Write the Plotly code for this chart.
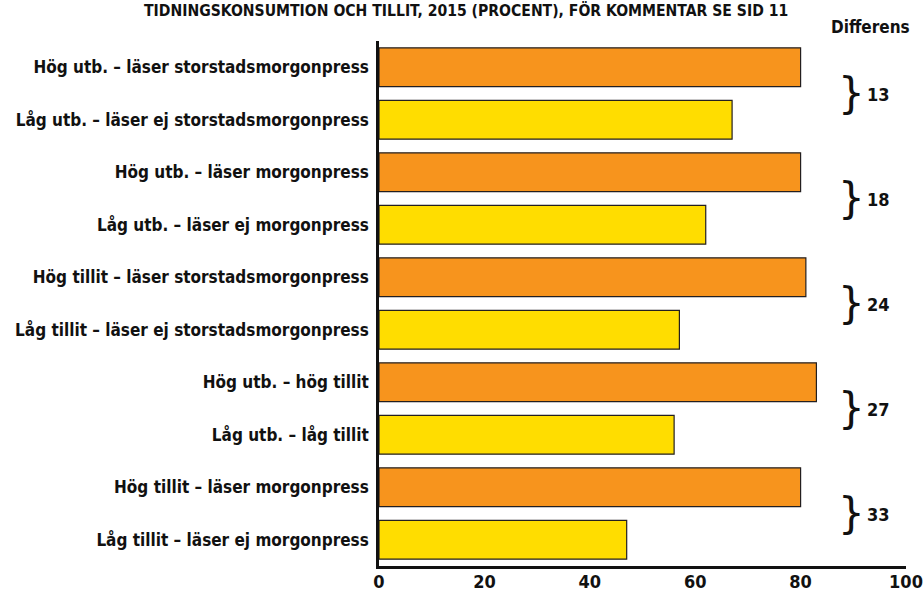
import plotly.graph_objects as go

categories = [
    "Hög utb. – läser storstadsmorgonpress",
    "Låg utb. – läser ej storstadsmorgonpress",
    "Hög utb. – läser morgonpress",
    "Låg utb. – läser ej morgonpress",
    "Hög tillit – läser storstadsmorgonpress",
    "Låg tillit – läser ej storstadsmorgonpress",
    "Hög utb. – hög tillit",
    "Låg utb. – låg tillit",
    "Hög tillit – läser morgonpress",
    "Låg tillit – läser ej morgonpress",
]
values = [80, 67, 80, 62, 81, 57, 83, 56, 80, 47]
groups = ["hog", "lag"] * 5
differences = [13, 18, 24, 27, 33]
x_ticks = [0, 20, 40, 60, 80, 100]

ORANGE = "#F7941D"
YELLOW = "#FFDD00"
FONT = "DejaVu Sans Condensed"

cats_rev = categories[::-1]
vals_rev = values[::-1]
cols_rev = [ORANGE if g == "hog" else YELLOW for g in groups][::-1]

fig = go.Figure()
fig.add_trace(go.Bar(
    y=cats_rev, x=vals_rev, orientation="h",
    marker=dict(color=cols_rev, line=dict(color="#231F20", width=1.2)),
    hoverinfo="x+y",
))

fig.update_layout(
    width=923, height=594,
    margin=dict(l=379, r=17, t=41, b=28, autoexpand=False),
    paper_bgcolor="white", plot_bgcolor="white",
    bargap=0.26,
    showlegend=False,
    font=dict(family=FONT, color="#111111", size=17),
    xaxis=dict(
        range=[0, 100], tickvals=x_ticks, ticktext=[str(t) for t in x_ticks],
        showgrid=False, zeroline=False, showline=True, linecolor="#111111",
        linewidth=2.5, ticks="", automargin=False, ticklabelstandoff=-2,
        tickfont=dict(family=FONT, size=18, color="#111111", weight="bold"),
        fixedrange=True,
    ),
    yaxis=dict(
        range=[-0.5, 9.5], showgrid=False, zeroline=False, showline=True,
        linecolor="#111111", linewidth=2.5, ticks="", ticklabelstandoff=4,
        automargin=False,
        tickfont=dict(family=FONT, size=17, color="#111111", weight="bold"),
        fixedrange=True,
    ),
)

annotations = []
annotations.append(dict(
    text="TIDNINGSKONSUMTION OCH TILLIT, 2015 (PROCENT), FÖR KOMMENTAR SE SID 11",
    xref="paper", yref="paper", x=0.0, y=1, xanchor="center", yanchor="middle",
    xshift=466 - 379, yshift=31, showarrow=False,
    font=dict(family=FONT, size=15.6, color="#111111", weight="bold"),
))
annotations.append(dict(
    text="Differens", xref="paper", yref="paper", x=1, y=1,
    xanchor="center", yanchor="middle", xshift=-36, yshift=14, showarrow=False,
    font=dict(family=FONT, size=17, color="#111111", weight="bold"),
))
for i, d in enumerate(differences):
    ypos = 9 - 2 * i - 0.5
    annotations.append(dict(
        text="}", x=100, y=ypos, xref="x", yref="y", xanchor="center",
        yanchor="middle", xshift=-55, showarrow=False,
        font=dict(family="DejaVu Sans", size=42, color="#111111"),
    ))
    annotations.append(dict(
        text=str(d), x=100, y=ypos, xref="x", yref="y", xanchor="left",
        yanchor="middle", xshift=-41, yshift=-1, showarrow=False,
        font=dict(family=FONT, size=18, color="#111111", weight="bold"),
    ))
fig.update_layout(annotations=annotations)

fig.write_html("out.html", config={"displayModeBar": False},
               post_script="document.body.style.margin='0';")
